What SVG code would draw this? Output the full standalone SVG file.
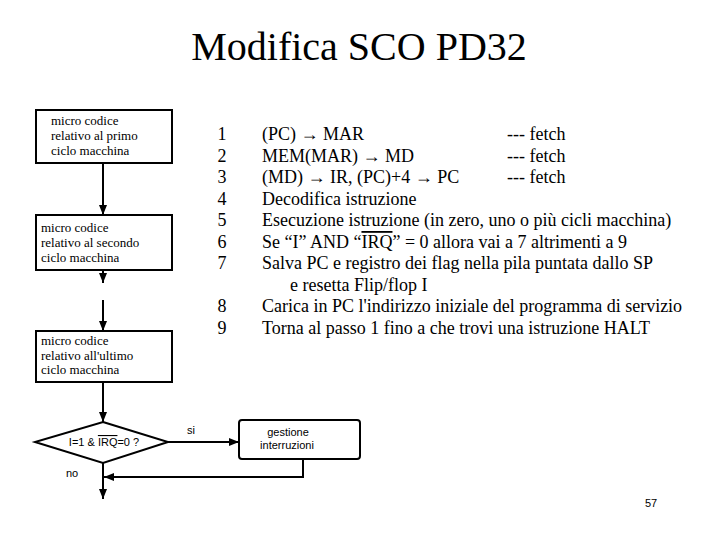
<svg xmlns="http://www.w3.org/2000/svg" width="720" height="540" viewBox="0 0 720 540">
<defs>
<marker id="ah" markerWidth="10" markerHeight="8" refX="10" refY="4" orient="auto" markerUnits="userSpaceOnUse">
<path d="M0,0 L10,4 L0,8 Z" fill="#000"/>
</marker>
<style>
.box{fill:#fff;stroke:#000;stroke-width:2}
.ln{fill:none;stroke:#000;stroke-width:2}
.bt{font-family:"Liberation Serif","Times New Roman",serif;font-size:13px;fill:#000}
.st{font-family:"Liberation Sans",Arial,sans-serif;font-size:11px;fill:#000}
.mt{font-family:"Liberation Serif","Times New Roman",serif;font-size:18px;fill:#000}
.title{font-family:"Liberation Serif","Times New Roman",serif;font-size:40px;fill:#000}
</style>
</defs>
<rect width="720" height="540" fill="#fff"/>
<text class="title" x="359" y="60" text-anchor="middle">Modifica SCO PD32</text>

<g id="connectors">
<path class="ln" d="M103,163 V215" marker-end="url(#ah)"/>
<path class="ln" d="M103,270 V283" marker-end="url(#ah)"/>
<path class="ln" d="M103,300 V331" marker-end="url(#ah)"/>
<path class="ln" d="M103,382 V422" marker-end="url(#ah)"/>
<path class="ln" d="M168,442 H239" marker-end="url(#ah)"/>
<path class="ln" d="M303,459 V477 H104" marker-end="url(#ah)"/>
<path class="ln" d="M103,463 V499" marker-end="url(#ah)"/>
</g>

<g id="box1">
<rect class="box" x="36" y="110" width="136" height="53"/>
<text class="bt" x="51" y="125">micro codice</text>
<text class="bt" x="51" y="140">relativo al primo</text>
<text class="bt" x="51" y="155">ciclo macchina</text>
</g>
<g id="box2">
<rect class="box" x="36" y="215" width="136" height="55"/>
<text class="bt" x="41" y="232">micro codice</text>
<text class="bt" x="41" y="247">relativo al secondo</text>
<text class="bt" x="41" y="262">ciclo macchina</text>
</g>
<g id="box3">
<rect class="box" x="36" y="331" width="136" height="51"/>
<text class="bt" x="41" y="345">micro codice</text>
<text class="bt" x="41" y="360">relativo all'ultimo</text>
<text class="bt" x="41" y="374">ciclo macchina</text>
</g>
<g id="decision">
<polygon class="box" points="103,422 168,442 103,463 35,442"/>
<text class="st" x="104" y="446" text-anchor="middle">I=1 &amp; <tspan text-decoration="overline">IRQ</tspan>=0 ?</text>
</g>
<g id="interrupt">
<rect class="box" x="239" y="420" width="121" height="39" rx="3"/>
<text class="st" x="288" y="436" text-anchor="middle">gestione</text>
<text class="st" x="287" y="449" text-anchor="middle">interruzioni</text>
</g>
<text class="st" x="187" y="434">si</text>
<text class="st" x="66" y="477">no</text>

<g id="steps" class="mt">
<g text-anchor="middle">
<text x="222" y="140">1</text>
<text x="222" y="162">2</text>
<text x="222" y="183">3</text>
<text x="222" y="205">4</text>
<text x="222" y="226">5</text>
<text x="222" y="248">6</text>
<text x="222" y="269">7</text>
<text x="222" y="312">8</text>
<text x="222" y="334">9</text>
</g>
<text x="262" y="140">(PC) → MAR</text>
<text x="262" y="162">MEM(MAR) → MD</text>
<text x="262" y="183">(MD) → IR, (PC)+4 → PC</text>
<text x="262" y="205">Decodifica istruzione</text>
<text x="262" y="226">Esecuzione istruzione (in zero, uno o più cicli macchina)</text>
<text x="262" y="248">Se “I” AND “<tspan text-decoration="overline">IRQ</tspan>” = 0 allora vai a 7 altrimenti a 9</text>
<text x="262" y="269">Salva PC e registro dei flag nella pila puntata dallo SP</text>
<text x="290" y="291">e resetta Flip/flop I</text>
<text x="262" y="312">Carica in PC l'indirizzo iniziale del programma di servizio</text>
<text x="262" y="334">Torna al passo 1 fino a che trovi una istruzione HALT</text>
<text x="507" y="140">--- fetch</text>
<text x="507" y="162">--- fetch</text>
<text x="507" y="183">--- fetch</text>
</g>
<text class="st" x="651" y="507" text-anchor="middle" font-size="12">57</text>
</svg>
